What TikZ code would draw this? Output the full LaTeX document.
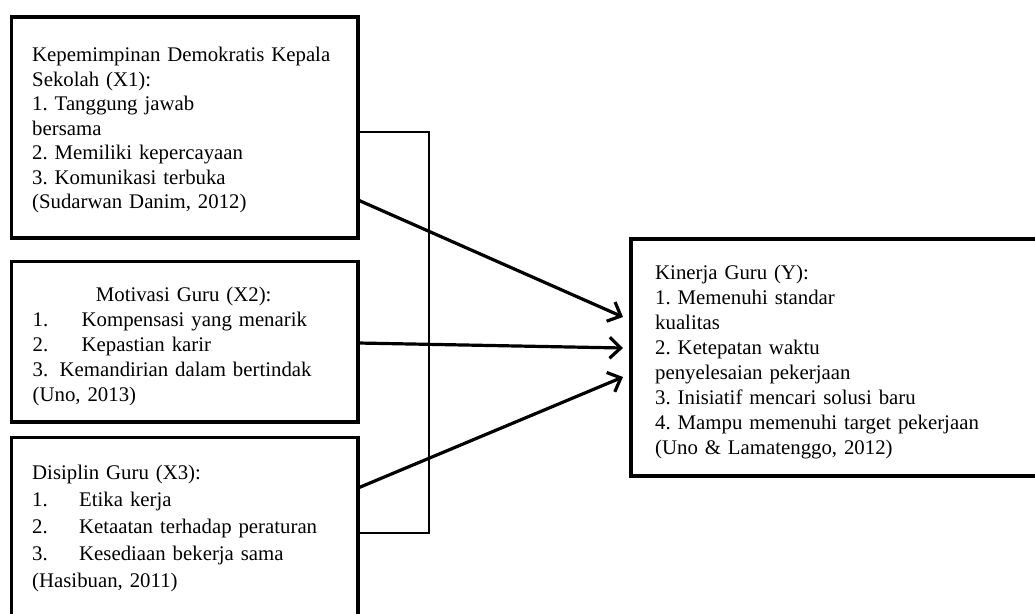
\documentclass[tikz,border=0pt]{standalone}
\usepackage{fontspec}
\setmainfont{Liberation Serif}
\frenchspacing
\usetikzlibrary{arrows.meta,positioning}

\begin{document}
\begin{tikzpicture}[x=1pt,y=-1pt]
\tikzset{BoxStyle/.style={draw, rectangle, line width=3.6pt, outer sep=0pt, inner sep=0pt, anchor=north west, minimum width=346.5pt}}
\tikzset{TextStyle/.style={anchor=north west, inner sep=0pt, text width=310pt, align=left, font=\fontsize{20.8}{#1}\selectfont}, TextStyle/.default=24.8}
\tikzset{EdgeStyle/.style={line width=3.2pt, -{Straight Barb[length=11pt,width=21pt]}}}
\tikzset{LinkStyle/.style={line width=1.6pt}}
\useasboundingbox (0,0) rectangle (1035,613);
\clip (0,0) rectangle (1035,613);
\node[BoxStyle, minimum height=221pt] (x1) at (11.5,17) {};
\node[BoxStyle, minimum height=160.5pt, below=23.5pt of x1] (x2) {};
\node[BoxStyle, minimum height=200pt, below=15.5pt of x2] (x3) {};
\node[BoxStyle, minimum width=431pt, minimum height=237pt] (y) at (631,239) {};
\node[TextStyle=24.5] (x1t) at ([shift={(20.5pt,-30pt)}]x1.north west) {Kepemimpinan Demokratis Kepala\\Sekolah (X1):\\1. Tanggung jawab\\bersama\\2. Memiliki kepercayaan\\3. Komunikasi terbuka\\(Sudarwan Danim, 2012)};
\node[TextStyle=25] (x2t) at ([shift={(21pt,-25.5pt)}]x2.north west) {\makebox[302pt]{Motivasi Guru (X2):}\\\makebox[49pt][l]{1.}Kompensasi yang menarik\\\makebox[49pt][l]{2.}Kepastian karir\\\makebox[27pt][l]{3.}Kemandirian dalam bertindak\\(Uno, 2013)};
\node[TextStyle=27] (x3t) at ([shift={(20.5pt,-27pt)}]x3.north west) {Disiplin Guru (X3):\\\makebox[47pt][l]{1.}Etika kerja\\\makebox[47pt][l]{2.}Ketaatan terhadap peraturan\\\makebox[47pt][l]{3.}Kesediaan bekerja sama\\(Hasibuan, 2011)};
\node[TextStyle=25, text width=360pt] (yt) at ([shift={(24pt,-26pt)}]y.north west) {Kinerja Guru (Y):\\1. Memenuhi standar\\kualitas\\2. Ketepatan waktu\\penyelesaian pekerjaan\\3. Inisiatif mencari solusi baru\\4. Mampu memenuhi target pekerjaan\\(Uno \& Lamatenggo, 2012)};
\coordinate (x3in) at ([yshift=-95.5pt]x3.north east);
\draw[LinkStyle] ([yshift=-4.5pt]x1.east) -| ([xshift=71pt]x3in) -- (x3in);
\draw[EdgeStyle] ([yshift=-72.5pt]x1.east) -- ([xshift=-8pt,yshift=40.5pt]y.west);
\draw[EdgeStyle] ([yshift=-1.25pt]x2.east) -- ([xshift=-8pt,yshift=9.5pt]y.west);
\draw[EdgeStyle] ([yshift=-50.5pt]x3.north east) -- ([xshift=-8pt,yshift=-19.5pt]y.west);
\end{tikzpicture}
\end{document}
